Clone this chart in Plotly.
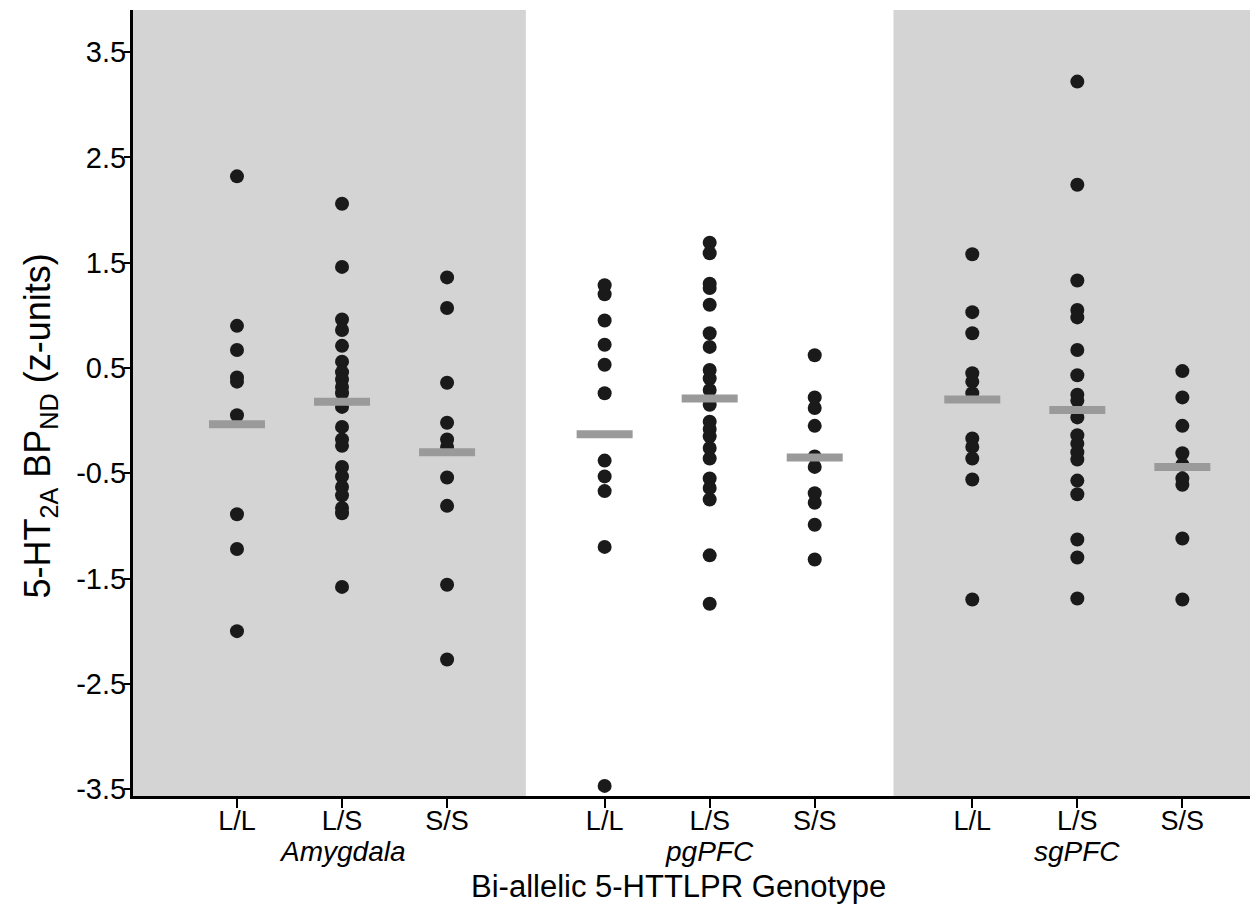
import plotly.graph_objects as go

# ---- data ----
regions = ["Amygdala", "pgPFC", "sgPFC"]
genotypes = ["L/L", "L/S", "S/S"]
positions = [0, 1, 2, 3.5, 4.5, 5.5, 7, 8, 9]
tick_labels = ["L/L", "L/S", "S/S"] * 3

amy_LL = [2.32, 0.90, 0.67, 0.41, 0.37, 0.05, -0.89, -1.22, -2.00]
amy_LS = [2.06, 1.46, 0.96, 0.86, 0.71, 0.56, 0.46, 0.39, 0.32, 0.26, 0.13, -0.06,
          -0.18, -0.24, -0.44, -0.53, -0.63, -0.71, -0.83, -0.88, -1.58]
amy_SS = [1.36, 1.07, 0.36, -0.02, -0.18, -0.25, -0.54, -0.81, -1.56, -2.27]
pg_LL = [1.285, 1.20, 0.95, 0.72, 0.53, 0.26, -0.38, -0.53, -0.67, -1.20, -3.47]
pg_LS = [1.69, 1.59, 1.30, 1.26, 1.10, 0.83, 0.70, 0.48, 0.40, 0.29, 0.15, -0.01,
         -0.08, -0.15, -0.26, -0.36, -0.55, -0.64, -0.75, -1.28, -1.74]
pg_SS = [0.62, 0.22, 0.12, -0.05, -0.34, -0.44, -0.69, -0.78, -0.99, -1.32]
sg_LL = [1.58, 1.03, 0.83, 0.45, 0.37, 0.26, -0.17, -0.25, -0.36, -0.56, -1.70]
sg_LS = [3.22, 2.24, 1.33, 1.05, 0.98, 0.67, 0.43, 0.245, 0.19, 0.03, -0.14, -0.22,
         -0.30, -0.37, -0.57, -0.70, -1.13, -1.30, -1.69]
sg_SS = [0.47, 0.22, -0.05, -0.31, -0.42, -0.55, -0.61, -1.12, -1.70]

groups = [amy_LL, amy_LS, amy_SS, pg_LL, pg_LS, pg_SS, sg_LL, sg_LS, sg_SS]
means = [-0.036, 0.18, -0.30, -0.13, 0.21, -0.35, 0.20, 0.10, -0.44]

y_ticks = [3.5, 2.5, 1.5, 0.5, -0.5, -1.5, -2.5, -3.5]

FONT = "Liberation Sans, Arial, sans-serif"

fig = go.Figure()

# shaded region backgrounds
for x0, x1 in [(-1.5, 2.75), (6.25, 10.5)]:
    fig.add_shape(type="rect", xref="x", yref="paper", x0=x0, x1=x1, y0=0, y1=1,
                  fillcolor="#d4d4d4", line_width=0, layer="below")

# points
for pos, vals in zip(positions, groups):
    fig.add_trace(go.Scatter(
        x=[pos] * len(vals), y=vals, mode="markers",
        marker=dict(size=14, color="#1a1a1a"),
        showlegend=False, hoverinfo="y"))

# mean bars
fig.add_trace(go.Scatter(
    x=positions, y=means, mode="markers",
    marker=dict(symbol="line-ew", size=40, line=dict(width=8, color="#9a9a9a")),
    showlegend=False, hoverinfo="y"))

fig.update_xaxes(
    range=[-0.99, 9.72], tickmode="array", tickvals=positions, ticktext=tick_labels,
    showline=True, linecolor="black", linewidth=3, ticks="outside", ticklen=9,
    tickwidth=2, tickcolor="black", showgrid=False, zeroline=False,
    ticklabelstandoff=-10,
    tickfont=dict(family=FONT, size=27, color="black"))
fig.update_yaxes(
    range=[-3.566, 3.90], tickmode="array", tickvals=y_ticks,
    ticktext=[f"{v:.1f}" for v in y_ticks],
    showline=True, linecolor="black", linewidth=3, ticks="outside", ticklen=6,
    tickwidth=2, tickcolor="black", showgrid=False, zeroline=False,
    ticklabelstandoff=-8,
    tickfont=dict(family=FONT, size=29, color="black"))

# region labels
for pos, name in zip([1, 4.5, 8], regions):
    fig.add_annotation(x=pos, xref="x", y=0, yref="paper", yshift=-55,
                       text=f"<i>{name}</i>", showarrow=False, yanchor="middle",
                       font=dict(family=FONT, size=28, color="black"))

# axis titles
fig.add_annotation(x=0.485, xref="paper", y=0, yref="paper", yshift=-90,
                   text="Bi-allelic 5-HTTLPR Genotype", showarrow=False,
                   yanchor="middle", font=dict(family=FONT, size=31, color="black"))
fig.add_annotation(x=0, xref="paper", xshift=-93, y=0.47, yref="paper",
                   text="5-HT<sub>2A</sub> BP<sub>ND</sub> (z-units)", showarrow=False,
                   textangle=-90, xanchor="center", yanchor="middle",
                   font=dict(family=FONT, size=36, color="black"))

# page has an 8px body margin: size and margins compensate so the plot area
# sits at x 133..1258, y 10..796 in the window
fig.update_layout(
    width=1250, height=906,
    margin=dict(l=125, r=0, t=2, b=118),
    plot_bgcolor="white", paper_bgcolor="white")

fig.write_html("out.html")
